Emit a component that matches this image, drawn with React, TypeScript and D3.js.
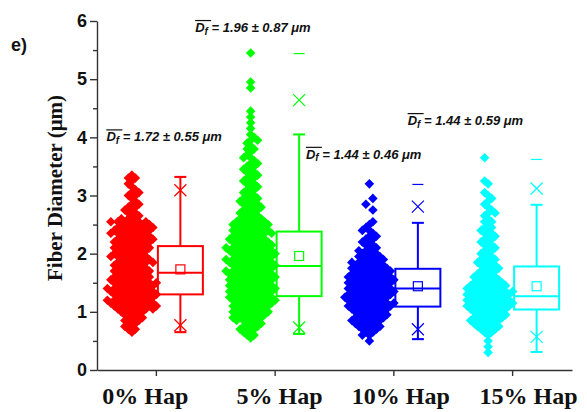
import React, { useEffect, useRef } from "react";
import * as d3 from "d3";

const width = 587;
const height = 412;
const margin = { top: 21, right: 15, bottom: 42, left: 97 };

const categories = ["0% Hap", "5% Hap", "10% Hap", "15% Hap"];
const colors = ["#ff0000", "#00ff00", "#0000ff", "#00ffff"];

// box statistics (µm)
const q1 = [1.3, 1.27, 1.09, 1.04];
const median = [1.67, 1.79, 1.4, 1.27];
const q3 = [2.13, 2.38, 1.74, 1.78];
const mean = [1.73, 1.96, 1.44, 1.44];
const whiskerLow = [0.65, 0.62, 0.53, 0.31];
const whiskerHigh = [3.32, 4.05, 2.53, 2.84];
const p1 = [0.77, 0.73, 0.7, 0.57];
const p99 = [3.09, 4.64, 2.81, 3.12];
const minV = [0.65, 0.62, 0.53, 0.31];
const maxV = [3.32, 5.44, 3.19, 3.62];

const meanText = ["1.72", "1.96", "1.44", "1.44"];
const sdText = ["0.55", "0.87", "0.46", "0.59"];

// number of fibres in each 0.05 µm diameter class, starting at classStart
const classStep = 0.05;
const classStart = [0.65, 0.55, 0.5, 0.3];
const counts0 = [
  1, 2, 2, 2, 3, 3, 3, 4, // 0.65 - 1.00
  6, 7, 7, 7, 6, 7, 7, 7, 6, 7, 6, // 1.05 - 1.55
  6, 5, 6, 5, 5, 6, 5, 6, 5, 5, 6, 5, // 1.60 - 2.15
  6, 6, 5, 6, 6, 6, 5, 6, // 2.20 - 2.55
  3, 2, 2, 2, 2, 2, 1, 1, 2, 2, 1, 1, 1, 1, 2, 1, // 2.60 - 3.35
];
const counts5 = [
  1, 2, 2, 3, 3, 3, 4, 5, 5, // 0.55 - 0.95
  6, 5, 6, 6, // 1.00 - 1.15
  7, 7, 6, 7, 7, 7, 6, 7, 7, 7, 7, 6, 7, 7, 7, 6, 7, 7, 7, 6, // 1.20 - 2.15
  6, 6, 5, 6, 6, 5, 6, 5, // 2.20 - 2.55
  4, 3, 3, 3, 3, 3, 3, 3, // 2.60 - 2.95
  2, 2, 2, 2, 2, 2, 2, 2, 2, 2, 2, // 3.00 - 3.50
  2, 1, 2, 1, 1, 2, 1, 1, 2, 1, 1, // 3.55 - 4.05
  0, 1, 0, 1, 0, 1, 0, 1, 0, 0, 0, 0, 0, 0, 0, 1, 0, 1, // 4.10 - 4.95
  0, 0, 0, 0, 0, 0, 0, 0, 0, 1, // 5.00 - 5.45
];
const counts10 = [
  1, 0, 2, 2, 3, 4, 4, 5, 5, 5, 5, 6, // 0.50 - 1.05
  7, 7, 6, 7, 7, 7, 7, 6, 7, 7, 7, 6, // 1.10 - 1.65
  6, 6, 5, 5, 4, 4, 3, 3, 2, 2, 2, 2, 2, 1, 2, 1, 1, 1, // 1.70 - 2.55
  0, 0, 0, 1, 0, 1, 0, 1, 0, 0, 0, 0, 1, // 2.60 - 3.20
];
const counts15 = [
  1, 0, 1, 0, 1, 0, 1, 2, 3, 4, 4, 5, 5, 5, 5, 6, // 0.30 - 1.05
  7, 7, 7, 6, 7, 7, 6, 6, 5, // 1.10 - 1.50
  4, 4, 3, 3, 3, 3, 3, 3, 2, // 1.55 - 1.95
  2, 2, 2, 2, 2, 2, 2, 2, 2, // 2.00 - 2.40
  2, 1, 2, 1, 1, 2, 1, 1, 1, 1, 1, 1, 1, // 2.45 - 3.05
  0, 0, 1, 1, 0, 0, 0, 0, 0, 0, 0, 1, // 3.10 - 3.65
];
const counts = [counts0, counts5, counts10, counts15];

// text placement (pixel offsets from the category centre, value for baseline)
const noteDx = [-50, -80, -88, -105];
const noteY = [3.93, 5.81, 3.63, 4.21];
const labelDx = [-11, 4.5, 7, 16];

const x = d3
  .scaleBand()
  .domain(categories)
  .range([margin.left, width - margin.right]);
const y = d3
  .scaleLinear()
  .domain([0, 6])
  .range([height - margin.bottom, margin.top]);

const DX = 7;
const diamond = d3.symbol().type(d3.symbolSquare).size(46)();

// lay the fibres of each class side by side, alternate classes interleaved
function swarm(start: number, cls: number[]) {
  const out: { v: number; off: number }[] = [];
  cls.forEach((n, k) => {
    const v = start + k * classStep;
    const wantHalf = k % 2 === 1;
    const isHalf = n % 2 === 0;
    const shift = wantHalf === isHalf ? 0 : (k % 4 < 2 ? 1 : -1) * DX / 2;
    for (let i = 0; i < n; i++) {
      out.push({ v, off: (i - (n - 1) / 2) * DX + shift });
    }
  });
  return out;
}

export default function App() {
  const yAxisRef = useRef<SVGGElement>(null);
  const yMinorRef = useRef<SVGGElement>(null);
  const xAxisRef = useRef<SVGGElement>(null);

  useEffect(() => {
    const gy = d3.select(yAxisRef.current);
    gy.call(
      d3
        .axisLeft(y)
        .tickValues(d3.range(0, 7))
        .tickFormat(d3.format("d"))
        .tickSize(7)
        .tickSizeOuter(0)
        .tickPadding(3)
    );
    gy.selectAll("text")
      .attr("fill", "#111")
      .attr("font-family", "'Liberation Sans', Arial, sans-serif")
      .attr("font-size", 18)
      .attr("font-weight", "bold");
    gy.selectAll("line, path").attr("stroke", "#333").attr("stroke-width", 1.4);

    const gm = d3.select(yMinorRef.current);
    gm.call(
      d3
        .axisLeft(y)
        .tickValues(d3.range(0.5, 6, 1))
        .tickSize(4)
        .tickSizeOuter(0)
        .tickFormat(() => "")
    );
    gm.select(".domain").remove();
    gm.selectAll("line").attr("stroke", "#333").attr("stroke-width", 1.4);

    const gx = d3.select(xAxisRef.current);
    gx.call(d3.axisBottom(x).tickSize(6).tickSizeOuter(0).tickFormat(() => ""));
    gx.selectAll("line, path").attr("stroke", "#333").attr("stroke-width", 1.4);
  }, []);

  const center = (c: string) => (x(c) ?? 0) + x.bandwidth() / 2;

  return (
    <svg
      width={width}
      height={height}
      style={{ position: "absolute", left: 0, top: 0, background: "#fff" }}
    >
      <rect width={width} height={height} fill="#fff" />
      <text
        x={11}
        y={51}
        fontFamily="'Liberation Sans', Arial, sans-serif"
        fontWeight="bold"
        fontSize={18}
        fill="#111"
      >
        e)
      </text>

      {categories.map((c, i) => {
        const sx = center(c) - 24.5;
        return (
          <g key={"pts" + c} fill={colors[i]}>
            {swarm(classStart[i], counts[i]).map((p, j) => (
              <path
                key={j}
                d={diamond}
                transform={`translate(${sx + p.off},${y(p.v)}) rotate(45)`}
              />
            ))}
          </g>
        );
      })}

      {categories.map((c, i) => {
        const bx = center(c) + 24;
        const bw = 45;
        const col = colors[i];
        const cap = 6;
        const xs = 6;
        return (
          <g key={"box" + c} stroke={col} fill="none">
            <line x1={bx} x2={bx} y1={y(q3[i])} y2={y(whiskerHigh[i])} strokeWidth={2} />
            <line x1={bx} x2={bx} y1={y(q1[i])} y2={y(whiskerLow[i])} strokeWidth={2} />
            <line x1={bx - cap} x2={bx + cap} y1={y(whiskerHigh[i])} y2={y(whiskerHigh[i])} strokeWidth={2} />
            <line x1={bx - cap} x2={bx + cap} y1={y(whiskerLow[i])} y2={y(whiskerLow[i])} strokeWidth={2} />
            <rect
              x={bx - bw / 2}
              y={y(q3[i])}
              width={bw}
              height={y(q1[i]) - y(q3[i])}
              strokeWidth={2}
            />
            <line x1={bx - bw / 2} x2={bx + bw / 2} y1={y(median[i])} y2={y(median[i])} strokeWidth={2} />
            <rect x={bx - 4.5} y={y(mean[i]) - 4.5} width={9} height={9} strokeWidth={1.2} />
            {[p1[i], p99[i]].map((v, k) => (
              <path
                key={k}
                d={`M${bx - xs},${y(v) - xs}L${bx + xs},${y(v) + xs}M${bx - xs},${y(v) + xs}L${bx + xs},${y(v) - xs}`}
                strokeWidth={1.2}
              />
            ))}
            {[minV[i], maxV[i]].map((v, k) => (
              <line key={k} x1={bx - 5.5} x2={bx + 5.5} y1={y(v)} y2={y(v)} strokeWidth={1.2} />
            ))}
          </g>
        );
      })}

      <g ref={yAxisRef} transform={`translate(${margin.left},0)`} />
      <g ref={yMinorRef} transform={`translate(${margin.left},0)`} />
      <g ref={xAxisRef} transform={`translate(0,${height - margin.bottom})`} />

      {categories.map((c, i) => (
        <text
          key={"lab" + c}
          x={center(c) + labelDx[i]}
          y={404}
          textAnchor="middle"
          fontFamily="'Liberation Serif', 'Times New Roman', serif"
          fontWeight="bold"
          fontSize={24}
          fill="#111"
        >
          {c}
        </text>
      ))}

      <text
        transform={`translate(62,188) rotate(-90)`}
        textAnchor="middle"
        fontFamily="'Liberation Serif', 'Times New Roman', serif"
        fontWeight="bold"
        fontSize={21}
        fill="#111"
      >
        Fiber Diameter (μm)
      </text>

      {categories.map((c, i) => {
        const tx = center(c) + noteDx[i];
        const ty = y(noteY[i]);
        return (
          <g key={"note" + c}>
            <line x1={tx} x2={tx + 16} y1={ty - 11.5} y2={ty - 11.5} stroke="#111" strokeWidth={1.2} />
            <text
              x={tx}
              y={ty}
              fontFamily="'Liberation Sans', Arial, sans-serif"
              fontWeight="bold"
              fontStyle="italic"
              fontSize={13}
              fill="#111"
            >
              <tspan>D</tspan>
              <tspan dy={2.5} fontSize={10}>f</tspan>
              <tspan dy={-2.5}>{` = ${meanText[i]} ± ${sdText[i]} μm`}</tspan>
            </text>
          </g>
        );
      })}
    </svg>
  );
}
